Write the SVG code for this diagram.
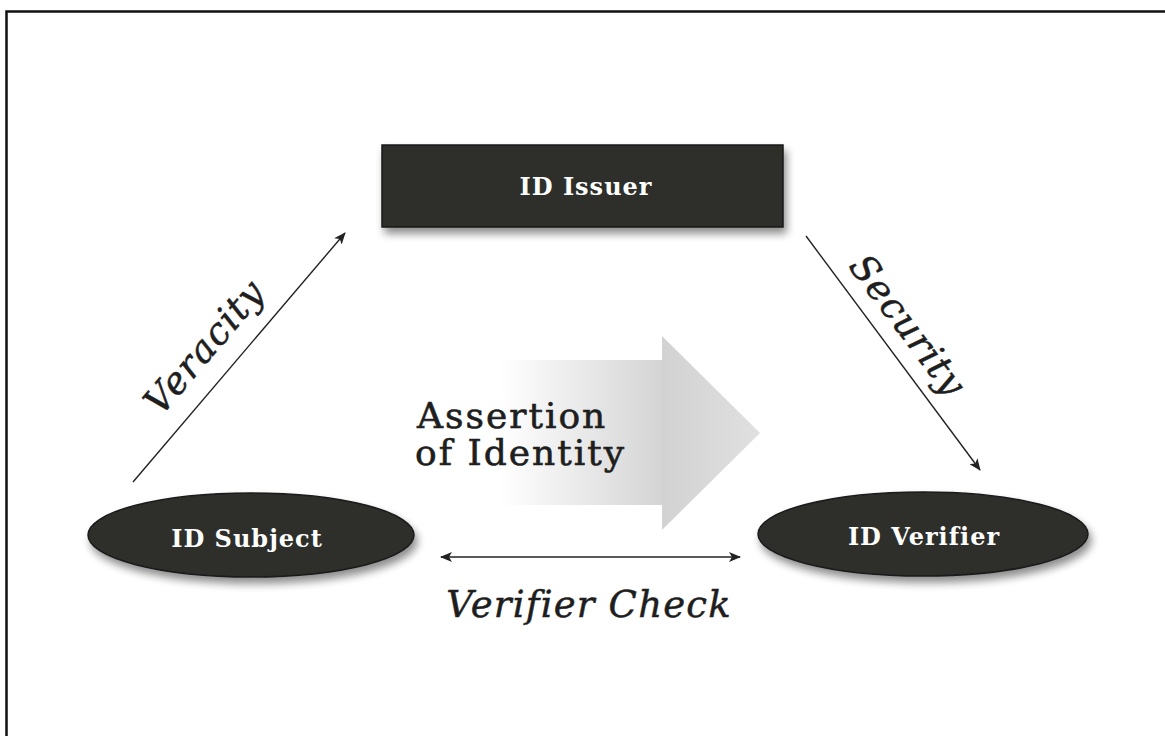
<svg xmlns="http://www.w3.org/2000/svg" width="1165" height="736" viewBox="0 0 1165 736">
<style>
.node{fill:#2e2e2c;stroke:#1a1a1a;stroke-width:1.5}
.nlabel{font-family:"DejaVu Serif",serif;font-weight:bold;font-size:24px;letter-spacing:1px;fill:#ffffff;text-anchor:middle}
.edge{stroke:#222;stroke-width:1.4;fill:none}
.elabel{font-family:"DejaVu Serif",serif;font-style:italic;font-size:37px;letter-spacing:1.2px;fill:#1e1e1e;stroke:#1e1e1e;stroke-width:0.5;text-anchor:middle}
.alabel{font-family:"DejaVu Serif",serif;font-size:36px;letter-spacing:2px;fill:#1e1e1e;stroke:#1e1e1e;stroke-width:0.6}
</style>
<defs>
<marker id="ah" viewBox="0 0 12 10" refX="11" refY="5" markerWidth="12" markerHeight="10" markerUnits="userSpaceOnUse" orient="auto-start-reverse">
<path d="M0,0 L12,5 L0,10 L3,5 Z" fill="#222"/>
</marker>
<linearGradient id="shaft" x1="500" y1="0" x2="662" y2="0" gradientUnits="userSpaceOnUse">
<stop offset="0" stop-color="#ffffff"/>
<stop offset="1" stop-color="#d4d4d4"/>
</linearGradient>
<linearGradient id="head" x1="662" y1="0" x2="760" y2="0" gradientUnits="userSpaceOnUse">
<stop offset="0" stop-color="#d2d2d2"/>
<stop offset="1" stop-color="#e0e0e0"/>
</linearGradient>
<filter id="sh" x="-20%" y="-30%" width="140%" height="170%">
<feGaussianBlur in="SourceAlpha" stdDeviation="4"/>
<feOffset dx="3" dy="6" result="b"/>
<feComponentTransfer><feFuncA type="linear" slope="0.45"/></feComponentTransfer>
<feMerge><feMergeNode/><feMergeNode in="SourceGraphic"/></feMerge>
</filter>
</defs>
<rect width="1165" height="736" fill="#ffffff"/>
<path d="M6.5,736 V11.5 H1165" fill="none" stroke="#111" stroke-width="2.5"/>

<g id="assertion-arrow">
<rect x="500" y="360" width="163" height="145" fill="url(#shaft)"/>
<polygon points="662,336 760,433 662,530" fill="url(#head)"/>
<text class="alabel" x="417" y="428">Assertion</text>
<text class="alabel" x="415" y="465">of Identity</text>
</g>

<g id="connectors">
<line class="edge" x1="133" y1="482" x2="345" y2="233" marker-end="url(#ah)"/>
<line class="edge" x1="806" y1="236" x2="980" y2="470" marker-end="url(#ah)"/>
<line class="edge" x1="441" y1="557" x2="740" y2="557" marker-start="url(#ah)" marker-end="url(#ah)"/>
<text class="elabel" transform="translate(214,355) rotate(-49.5)">Veracity</text>
<text class="elabel" transform="translate(898,333) rotate(53)">Security</text>
<text class="elabel" x="589" y="617">Verifier Check</text>
</g>

<g id="id-issuer">
<rect class="node" x="382" y="145" width="401" height="82" filter="url(#sh)"/>
<text class="nlabel" x="586" y="195">ID Issuer</text>
</g>

<g id="id-subject">
<ellipse class="node" cx="251" cy="535" rx="163" ry="42" filter="url(#sh)"/>
<text class="nlabel" x="247" y="547">ID Subject</text>
</g>

<g id="id-verifier">
<ellipse class="node" cx="923" cy="534" rx="165" ry="42" filter="url(#sh)"/>
<text class="nlabel" x="924" y="545">ID Verifier</text>
</g>
</svg>
